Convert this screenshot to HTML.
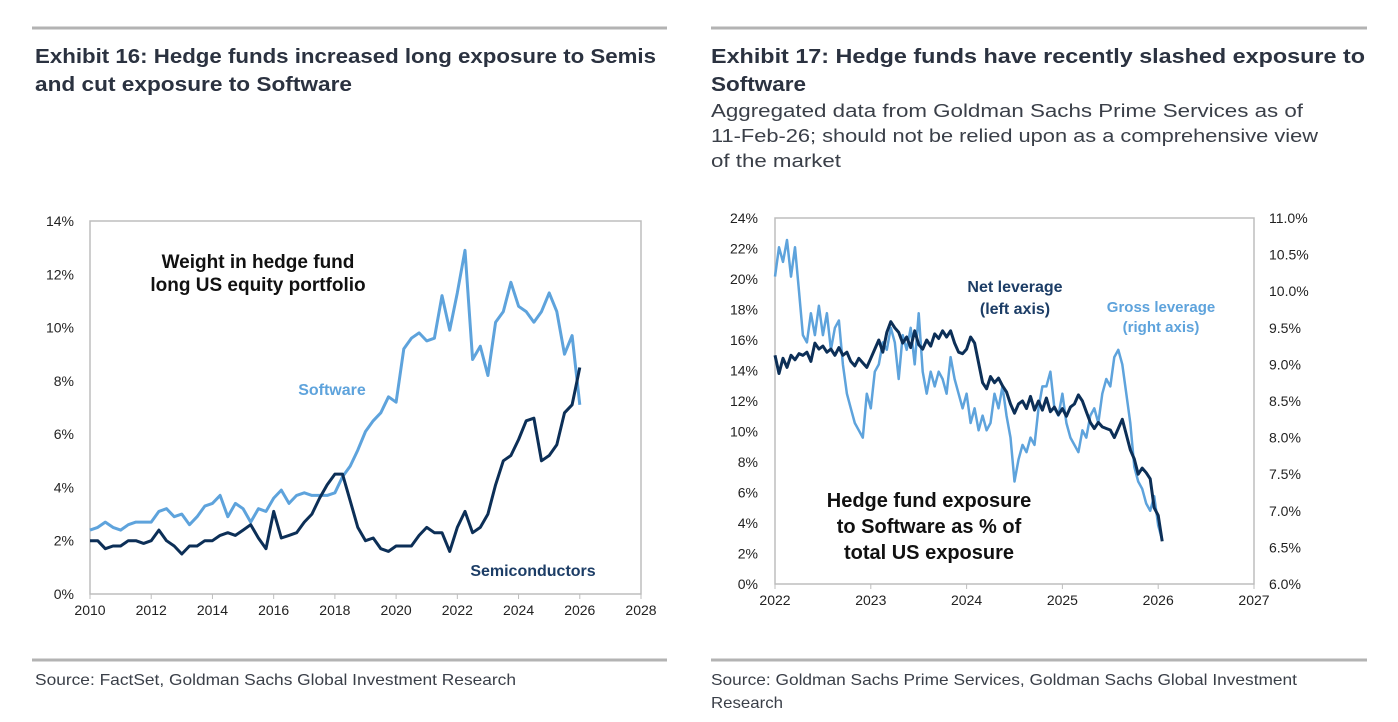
<!DOCTYPE html>
<html><head><meta charset="utf-8"><style>
html,body{margin:0;padding:0;background:#fff;}
svg{display:block;font-family:"Liberation Sans",sans-serif;}
</style></head><body>
<svg id="s" width="1398" height="722" viewBox="0 0 1398 722">
<g>
<line x1="32" y1="28" x2="667" y2="28" stroke="#b3b3b3" stroke-width="3"/>
<text x="35" y="63" font-size="20" font-weight="bold" fill="#2b3240" textLength="621" lengthAdjust="spacingAndGlyphs">Exhibit 16: Hedge funds increased long exposure to Semis</text>
<text x="35" y="91" font-size="20" font-weight="bold" fill="#2b3240" textLength="317" lengthAdjust="spacingAndGlyphs">and cut exposure to Software</text>
</g>
<g>
<line x1="711" y1="28" x2="1367" y2="28" stroke="#b3b3b3" stroke-width="3"/>
<text x="711" y="63" font-size="20" font-weight="bold" fill="#2b3240" textLength="654" lengthAdjust="spacingAndGlyphs">Exhibit 17: Hedge funds have recently slashed exposure to</text>
<text x="711" y="91" font-size="20" font-weight="bold" fill="#2b3240" textLength="95" lengthAdjust="spacingAndGlyphs">Software</text>
<text x="711" y="117" font-size="18" fill="#3a3f48" textLength="592" lengthAdjust="spacingAndGlyphs">Aggregated data from Goldman Sachs Prime Services as of</text>
<text x="711" y="142" font-size="18" fill="#3a3f48" textLength="607" lengthAdjust="spacingAndGlyphs">11-Feb-26; should not be relied upon as a comprehensive view</text>
<text x="711" y="167" font-size="18" fill="#3a3f48" textLength="130" lengthAdjust="spacingAndGlyphs">of the market</text>
</g>
<g>
<line x1="32" y1="660" x2="667" y2="660" stroke="#b3b3b3" stroke-width="3"/>
<line x1="711" y1="660" x2="1367" y2="660" stroke="#b3b3b3" stroke-width="3"/>
<text x="35" y="685" font-size="16" fill="#3a3f48" textLength="481" lengthAdjust="spacingAndGlyphs">Source: FactSet, Goldman Sachs Global Investment Research</text>
<text x="711" y="685" font-size="16" fill="#3a3f48" textLength="586" lengthAdjust="spacingAndGlyphs">Source: Goldman Sachs Prime Services, Goldman Sachs Global Investment</text>
<text x="711" y="708" font-size="16" fill="#3a3f48" textLength="72" lengthAdjust="spacingAndGlyphs">Research</text>
</g>
<g id="c1"></g>
<g id="c2"></g>
</svg>
<script>
// ---- Exhibit 16 data (quarterly, 2010Q1..2026Q1) ----
const c1Start = 2010;
const softwareWeights = [2.4,2.5,2.7,2.5, 2.4,2.6,2.7,2.7, 2.7,3.1,3.2,2.9, 3.0,2.6,2.9,3.3, 3.4,3.7,2.9,3.4, 3.2,2.7,3.2,3.1, 3.6,3.9,3.4,3.7, 3.8,3.7,3.7,3.7, 3.8,4.4,4.8,5.4, 6.1,6.5,6.8,7.4, 7.2,9.2,9.6,9.8, 9.5,9.6,11.2,9.9, 11.3,12.9,8.8,9.3, 8.2,10.2,10.6,11.7, 10.8,10.6,10.2,10.6, 11.3,10.6,9.0,9.7, 7.1];
const semisWeights = [2.0,2.0,1.7,1.8, 1.8,2.0,2.0,1.9, 2.0,2.4,2.0,1.8, 1.5,1.8,1.8,2.0, 2.0,2.2,2.3,2.2, 2.4,2.6,2.1,1.7, 3.1,2.1,2.2,2.3, 2.7,3.0,3.6,4.1, 4.5,4.5,3.5,2.5, 2.0,2.1,1.7,1.6, 1.8,1.8,1.8,2.2, 2.5,2.3,2.3,1.6, 2.5,3.1,2.3,2.5, 3.0,4.1,5.0,5.2, 5.8,6.5,6.6,5.0, 5.2,5.6,6.8,7.1, 8.5];
const c1XTicks = [2010,2012,2014,2016,2018,2020,2022,2024,2026,2028];
const c1YTicks = [0,2,4,6,8,10,12,14];

// ---- Exhibit 17 data (semi-monthly, Jan 2022..Feb 2026) ----
const c2Start = 2022;
const netLeverage = [15,13.8,14.8,14.2,15,14.7,15.1,15,15.2,14.6,15.8,15.4,15.6,15.2,15.4,15.0,15.5,15.0,15.2,14.6,14.3,14.8,14.5,14.2,
 14.8,15.4,16,15.2,16.5,17.2,16.8,16.5,15.8,16.2,15.5,16.6,15.7,15.4,16,15.6,16.4,16.1,16.6,16.2,16.6,15.8,15.2,15.1,
 15.4,16.2,15.8,14.5,13.2,12.8,13.6,13.2,13.5,13,12.6,11.8,11.2,11.8,12,11.5,12.3,11.4,12,11.4,12.2,11.3,11.6,11.1,
 11.5,11.0,11.6,11.8,12.4,12,11.3,10.6,10.2,10.6,10.3,10.2,10.1,9.6,10.2,10.8,9.8,8.8,8.2,7.2,7.6,7.3,6.9,5.0,4.5,2.8];
const grossLeverage = [10.2,10.6,10.4,10.7,10.2,10.6,10.0,9.4,9.3,9.7,9.4,9.8,9.4,9.7,9.2,9.5,9.6,9.0,8.6,8.4,8.2,8.1,8.0,8.6,
 8.4,8.9,9.0,9.3,9.2,9.5,9.3,8.8,9.4,9.2,9.5,9.0,9.7,8.9,8.6,8.9,8.7,8.9,8.8,8.6,9.1,8.8,8.6,8.4,
 8.6,8.2,8.4,8.1,8.3,8.1,8.2,8.6,8.4,8.7,8.3,8.0,7.4,7.7,7.9,7.8,8.0,7.9,8.4,8.7,8.7,8.9,8.4,8.3,
 8.6,8.2,8.0,7.9,7.8,8.1,8.0,8.3,8.4,8.2,8.6,8.8,8.7,9.1,9.2,9.0,8.6,8.2,7.6,7.4,7.3,7.1,7.0,7.2,6.8,6.6];
const c2XTicks = [2022,2023,2024,2025,2026,2027];
const c2YTicksLeft = [0,2,4,6,8,10,12,14,16,18,20,22,24];
const c2YTicksRight = [6.0,6.5,7.0,7.5,8.0,8.5,9.0,9.5,10.0,10.5,11.0];

const NS="http://www.w3.org/2000/svg";
function mk(parent, tag, attrs, text){const e=document.createElementNS(NS,tag);for(const k in attrs)e.setAttribute(k,attrs[k]);if(text!==undefined)e.textContent=text;parent.appendChild(e);return e;}
const LIGHT="#5ea3dc", DARK="#0c2f57", TXT="#222";

// Chart 1
(function(){
 const g=document.getElementById('c1');
 const L=90,R=641,T=221,B=594;
 const x=v=>L+(v-2010)/18*(R-L), y=v=>B-v/14*(B-T);
 const frame=mk(g,'rect',{x:L,y:T,width:R-L,height:B-T,fill:'none',stroke:'#bdbdbd','stroke-width':1.5});
 
 
 c1YTicks.forEach(t=>{const e=mk(g,'text',{x:L-16,y:y(t)+5,'font-size':14,'text-anchor':'end',fill:TXT},t+'%');
  });
 c1XTicks.forEach(t=>{mk(g,'line',{x1:x(t),x2:x(t),y1:B,y2:B+5,stroke:'#bdbdbd'});
  const e=mk(g,'text',{x:x(t),y:B+21,'font-size':14,'text-anchor':'middle',fill:TXT},t);
  });
 const pts=a=>a.map((v,i)=>x(c1Start+i/4).toFixed(1)+','+y(v).toFixed(1)).join(' ');
 const s=mk(g,'polyline',{points:pts(softwareWeights),fill:'none',stroke:LIGHT,'stroke-width':3,'stroke-linejoin':'round'});
 
 const m=mk(g,'polyline',{points:pts(semisWeights),fill:'none',stroke:DARK,'stroke-width':3,'stroke-linejoin':'round'});
 
 let e=mk(g,'text',{x:258,y:268,'font-size':19,'font-weight':'bold','text-anchor':'middle',fill:'#111'},'Weight in hedge fund');
 
 e=mk(g,'text',{x:258,y:291,'font-size':19,'font-weight':'bold','text-anchor':'middle',fill:'#111'},'long US equity portfolio');
 
 e=mk(g,'text',{x:332,y:395,'font-size':16,'font-weight':'bold','text-anchor':'middle',fill:LIGHT},'Software');
 
 e=mk(g,'text',{x:533,y:576,'font-size':16,'font-weight':'bold','text-anchor':'middle',fill:'#1c3d66'},'Semiconductors');
 
})();

// Chart 2
(function(){
 const g=document.getElementById('c2');
 const L=775,R=1254,T=218,B=584;
 const x=v=>L+(v-2022)/5*(R-L), yl=v=>B-v/24*(B-T), yr=v=>B-(v-6)/5*(B-T);
 const frame=mk(g,'rect',{x:L,y:T,width:R-L,height:B-T,fill:'none',stroke:'#bdbdbd','stroke-width':1.5});
 
 
 c2YTicksLeft.forEach(t=>{const e=mk(g,'text',{x:L-17,y:yl(t)+5,'font-size':14,'text-anchor':'end',fill:TXT},t+'%');
  });
 c2YTicksRight.forEach(t=>{const e=mk(g,'text',{x:R+15,y:yr(t)+5,'font-size':14,'text-anchor':'start',fill:TXT},t.toFixed(1)+'%');
  });
 c2XTicks.forEach(t=>{mk(g,'line',{x1:x(t),x2:x(t),y1:B,y2:B+5,stroke:'#bdbdbd'});
  const e=mk(g,'text',{x:x(t),y:B+21,'font-size':14,'text-anchor':'middle',fill:TXT},t);
  });
 const gp=grossLeverage.map((v,i)=>x(c2Start+i/24).toFixed(1)+','+yr(v).toFixed(1)).join(' ');
 const gl=mk(g,'polyline',{points:gp,fill:'none',stroke:LIGHT,'stroke-width':2.5,'stroke-linejoin':'round'});
 
 const np=netLeverage.map((v,i)=>x(c2Start+i/24).toFixed(1)+','+yl(v).toFixed(1)).join(' ');
 const nl=mk(g,'polyline',{points:np,fill:'none',stroke:DARK,'stroke-width':3,'stroke-linejoin':'round'});
 
 const lbl=(tx,cx,cy,fs,col,name)=>{const e=mk(g,'text',{x:cx,y:cy,'font-size':fs,'font-weight':'bold','text-anchor':'middle',fill:col},tx);
  };
 lbl('Net leverage',1015,292,16,'#1c3d66','net-leverage-label');
 lbl('(left axis)',1015,314,16,'#1c3d66','net-leverage-label');
 lbl('Gross leverage',1161,312,15,LIGHT,'gross-leverage-label');
 lbl('(right axis)',1161,332,15,LIGHT,'gross-leverage-label');
 lbl('Hedge fund exposure',929,507,20,'#111','chart-annotation');
 lbl('to Software as % of',929,533,20,'#111','chart-annotation');
 lbl('total US exposure',929,559,20,'#111','chart-annotation');
})();
</script>
</body></html>
